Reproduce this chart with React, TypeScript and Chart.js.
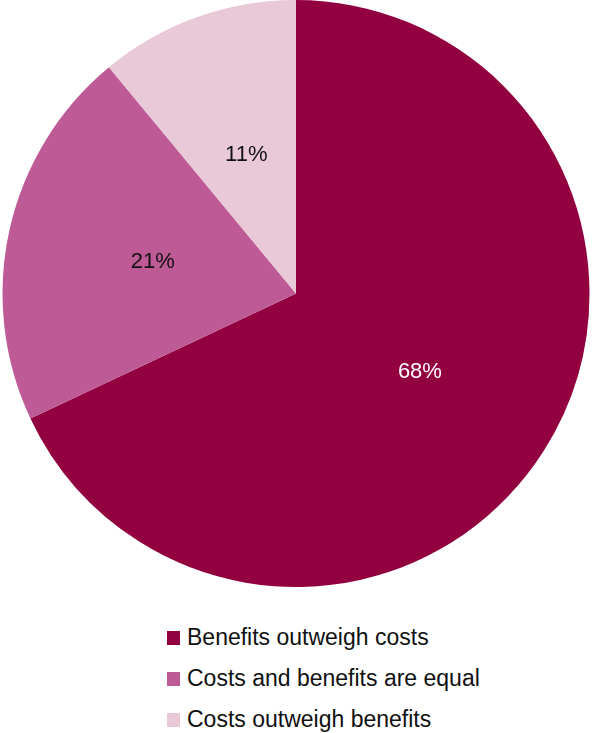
import React, { useEffect, useRef } from "react";
import { Chart, registerables } from "chart.js";

Chart.register(...registerables);

const categories = ["Benefits outweigh costs", "Costs and benefits are equal", "Costs outweigh benefits"];
const values = [68, 21, 11];
const labels = ["68%", "21%", "11%"];
const colors = ["#93003F", "#BE5B96", "#E9C9D8"];
const labelColors = ["#FFFFFF", "#111111", "#111111"];

const FONT = "'Liberation Sans', Arial, Helvetica, sans-serif";

const sliceLabels = {
  id: "sliceLabels",
  afterDatasetsDraw(chart: any) {
    const ctx = chart.ctx;
    const meta = chart.getDatasetMeta(0);
    ctx.save();
    ctx.font = `22px ${FONT}`;
    ctx.textAlign = "center";
    ctx.textBaseline = "middle";
    meta.data.forEach((arc: any, i: number) => {
      const p = arc.getCenterPoint();
      ctx.fillStyle = labelColors[i];
      ctx.fillText(labels[i], p.x, p.y);
    });
    ctx.restore();
  },
};

export default function App() {
  const ref = useRef<HTMLCanvasElement | null>(null);
  useEffect(() => {
    document.body.style.margin = "0";
    const chart = new Chart(ref.current as HTMLCanvasElement, {
      type: "pie",
      data: {
        labels: categories,
        datasets: [
          {
            data: values,
            backgroundColor: colors,
            borderWidth: 0,
          },
        ],
      },
      options: {
        animation: false,
        responsive: false,
        maintainAspectRatio: false,
        layout: { padding: 0 },
        plugins: {
          legend: { display: false },
          tooltip: { enabled: false },
        },
      },
      plugins: [sliceLabels],
    });
    return () => chart.destroy();
  }, []);

  return (
    <div style={{ position: "relative", width: 592, height: 733, fontFamily: FONT }}>
      <canvas ref={ref} width={592} height={587} style={{ position: "absolute", left: 0, top: 0, width: 592, height: 587 }} />
      {categories.map((c, i) => (
        <div
          key={c}
          style={{
            position: "absolute",
            left: 167,
            top: 617 + i * 41,
            height: 41,
            lineHeight: "41px",
            display: "flex",
            alignItems: "center",
            fontSize: 23,
            color: "#111111",
            whiteSpace: "nowrap",
          }}
        >
          <span style={{ display: "inline-block", width: 13, height: 14, background: colors[i], marginRight: 7 }} />
          <span>{c}</span>
        </div>
      ))}
    </div>
  );
}
